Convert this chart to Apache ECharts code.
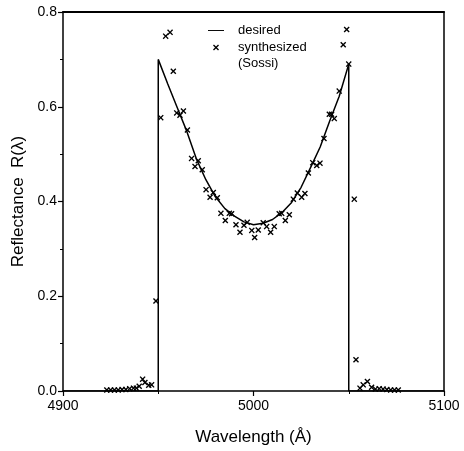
<!DOCTYPE html>
<html><head><meta charset="utf-8">
<script src="https://cdn.jsdelivr.net/npm/echarts@6/dist/echarts.min.js"></script>
<style>html,body{margin:0;padding:0;background:#fff}#c{width:464px;height:451px}</style>
</head><body><div id="c"></div>
<script>
// Desired reflectance curve (wavelength Å, R)
const desiredX = [4900, 4950, 4950, 4955, 4960, 4965, 4970, 4975, 4980, 4985, 4990, 4995, 5000, 5005, 5010, 5015, 5020, 5025, 5030, 5035, 5040, 5045, 5050, 5050, 5100];
const desiredY = [0, 0, 0.70, 0.648, 0.598, 0.548, 0.49, 0.446, 0.41, 0.385, 0.369, 0.357, 0.351, 0.354, 0.362, 0.377, 0.398, 0.43, 0.472, 0.515, 0.57, 0.622, 0.69, 0, 0];
// Synthesized (Sossi) points
const synthX = [4923, 4925, 4927, 4929, 4931, 4933, 4935, 4937, 4938.5, 4940, 4941.8, 4943, 4945, 4946.5, 4948.8,
  4951.3, 4953.9, 4956.2, 4957.9, 4959.7, 4961.4, 4963.2, 4965.3, 4967.5, 4969.3, 4971.0, 4973.1, 4975.1, 4977.2, 4978.9,
  4981.0, 4982.9, 4985.2, 4987.3, 4988.5, 4990.8, 4992.9, 4995.0, 4996.7, 4999.1, 5000.6, 5002.5, 5005.1, 5006.9, 5009.0,
  5010.9, 5013.5, 5014.8, 5016.7, 5018.8, 5020.9, 5023.0, 5025.3, 5027.0, 5028.8, 5031.1, 5033.2, 5034.9, 5037.0, 5039.8,
  5041.0, 5042.4, 5045.0, 5047.1, 5048.9, 5050.0, 5052.9, 5053.8, 5055.9, 5057.6, 5059.8, 5062, 5064, 5066, 5068, 5070, 5072, 5074, 5076];
const synthY = [0.002, 0.002, 0.002, 0.002, 0.003, 0.003, 0.005, 0.006, 0.006, 0.010, 0.025, 0.018, 0.012, 0.013, 0.19,
  0.577, 0.749, 0.757, 0.675, 0.587, 0.582, 0.591, 0.551, 0.491, 0.474, 0.486, 0.467, 0.425, 0.409, 0.419,
  0.408, 0.375, 0.360, 0.375, 0.374, 0.351, 0.335, 0.350, 0.356, 0.339, 0.324, 0.340, 0.355, 0.347, 0.335,
  0.347, 0.374, 0.375, 0.360, 0.372, 0.405, 0.418, 0.409, 0.417, 0.460, 0.482, 0.476, 0.481, 0.533, 0.584,
  0.584, 0.575, 0.633, 0.731, 0.763, 0.690, 0.405, 0.066, 0.006, 0.013, 0.020, 0.008, 0.004, 0.005, 0.004, 0.003, 0.002, 0.002, 0.002];
const xTicks = [4900, 5000, 5100];
const yTicks = ['0.0', '0.2', '0.4', '0.6', '0.8'];

const FONT = '"Liberation Sans", Arial, Helvetica, sans-serif';
const XMARK = 'path://M0,1.6 L1.6,0 L5,3.4 L8.4,0 L10,1.6 L6.6,5 L10,8.4 L8.4,10 L5,6.6 L1.6,10 L0,8.4 L3.4,5 Z';

const chart = echarts.init(document.getElementById('c'), null, {renderer: 'canvas'});
chart.setOption({
  animation: false,
  backgroundColor: '#fff',
  grid: {left: 63, right: 20, top: 12, bottom: 58},
  legend: {
    orient: 'vertical', left: 203, top: 19, itemGap: 4,
    itemWidth: 16, itemHeight: 6,
    textStyle: {fontFamily: FONT, fontSize: 13, color: '#000', padding: [0, 0, 0, 9]},
    data: [
      {name: 'desired', icon: 'path://M0,0 L20,0 L20,1.2 L0,1.2 Z'},
      {name: 'synthesized', icon: XMARK}
    ]
  },
  graphic: [{
    type: 'text', left: 238, top: 57,
    style: {text: '(Sossi)', font: '13px ' + FONT, fill: '#000'}
  }],
  xAxis: [{
    type: 'value', min: 4900, max: 5100, interval: 100,
    axisLine: {show: true, onZero: false, lineStyle: {color: '#000', width: 1.5}},
    axisTick: {show: true, inside: false, length: 5, lineStyle: {color: '#000', width: 1.2}},
    minorTick: {show: true, splitNumber: 2, length: 3, lineStyle: {color: '#000'}},
    splitLine: {show: false},
    axisLabel: {fontFamily: FONT, fontSize: 14, color: '#000', margin: 8,
      formatter: v => xTicks.indexOf(v) >= 0 ? String(v) : ''},
    name: 'Wavelength (Å)', nameLocation: 'middle', nameGap: 38,
    nameTextStyle: {fontFamily: FONT, fontSize: 17, color: '#000'}
  }, {
    type: 'value', min: 4900, max: 5100, position: 'top',
    axisLine: {show: true, onZero: false, lineStyle: {color: '#000', width: 2}},
    axisTick: {show: false}, axisLabel: {show: false}, splitLine: {show: false}
  }],
  yAxis: [{
    type: 'value', min: 0, max: 0.8, interval: 0.2,
    axisLine: {show: true, onZero: false, lineStyle: {color: '#000', width: 1.5}},
    axisTick: {show: true, length: 5, lineStyle: {color: '#000', width: 1.2}},
    minorTick: {show: true, splitNumber: 2, length: 3, lineStyle: {color: '#000'}},
    splitLine: {show: false},
    axisLabel: {fontFamily: FONT, fontSize: 14, color: '#000', margin: 6,
      formatter: v => yTicks[Math.round(v / 0.2)]},
    name: 'Reflectance  R(λ)', nameLocation: 'middle', nameGap: 36,
    nameTextStyle: {fontFamily: FONT, fontSize: 17, color: '#000'}
  }, {
    type: 'value', min: 0, max: 0.8, position: 'right',
    axisLine: {show: true, onZero: false, lineStyle: {color: '#000', width: 1.5}},
    axisTick: {show: false}, axisLabel: {show: false}, splitLine: {show: false}
  }],
  series: [{
    name: 'desired', type: 'line', showSymbol: false, symbol: 'none',
    data: desiredX.map((x, i) => [x, desiredY[i]]),
    lineStyle: {color: '#000', width: 1.5}, itemStyle: {color: '#000'}, z: 3
  }, {
    name: 'synthesized', type: 'scatter', symbol: XMARK, symbolSize: 6, symbolKeepAspect: true,
    data: synthX.map((x, i) => [x, synthY[i]]),
    itemStyle: {color: '#000', opacity: 1}, z: 4
  }]
});
</script></body></html>
